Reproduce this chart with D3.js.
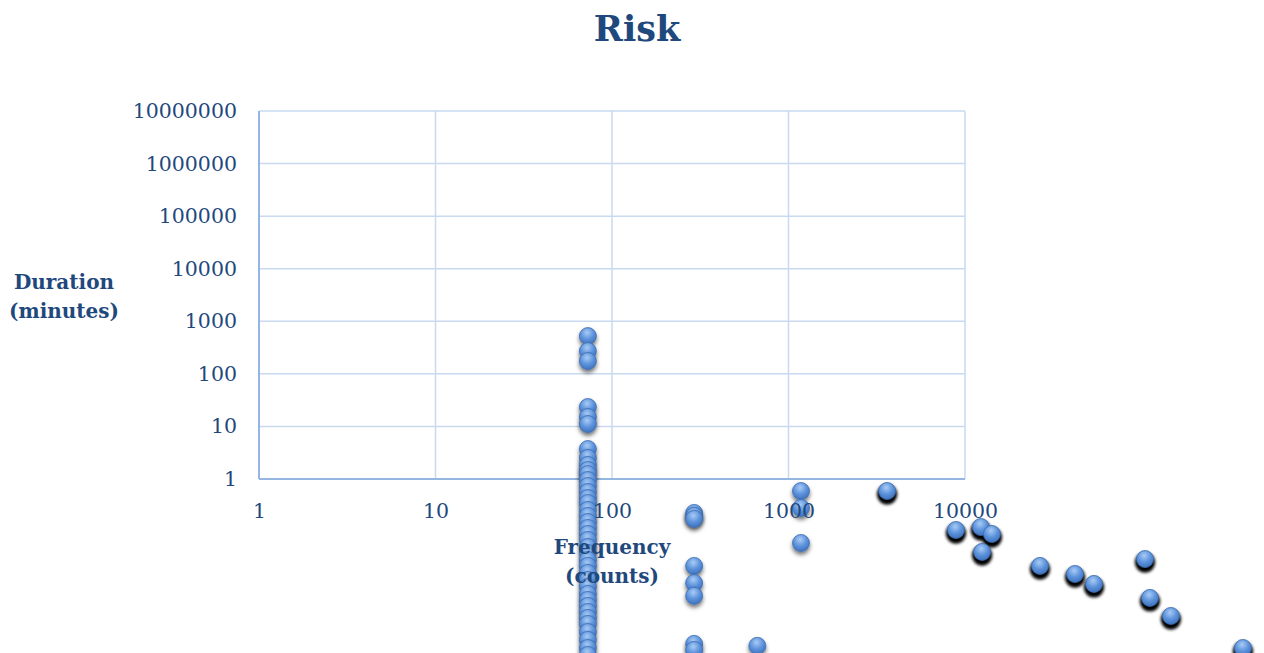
<!DOCTYPE html>
<html><head><meta charset="utf-8">
<script src="https://cdn.jsdelivr.net/npm/d3@7"></script>
<style>
html,body{margin:0;padding:0;background:#fff;}
svg{display:block;}
text{font-family:"DejaVu Serif",serif;fill:#1f497d;}
</style></head>
<body>
<script>
// ---- data ----
const title = "Risk";
const xTitle = ["Frequency", "(counts)"];
const yTitle = ["Duration", "(minutes)"];
const xTicks = [1, 10, 100, 1000, 10000];
const yTicks = [1, 10, 100, 1000, 10000, 100000, 1000000, 10000000];

// Frequency (counts) values
const freq = [
  73,73,73,73,73,73,73,73,73,73,73,73,73,73,73,73,73,73,73,73,
  73,73,73,73,73,73,73,73,73,73,73,73,73,73,73,73,73,73,73,
  292,292,292,292,292,292,292,292,
  666,
  1177,1177,1177,
  3620,
  8890,12300,14200,12500,26600,42000,53800,104700,111700,146800,375600
];
// Duration (minutes) values
const duration = [
  523,271,175,23.4,15.1,11.1,3.72,2.51,1.85,1.48,1.24,0.957,0.736,0.566,0.435,0.35,0.257,0.198,0.152,0.117,
  0.09,0.0692,0.0509,0.0392,0.0288,0.0222,0.0163,0.012,0.00885,0.00651,0.00501,0.00385,0.00296,0.00228,0.00175,0.00123,0.00087,0.00061,0.00045,
  0.226,0.2,0.174,0.0222,0.0105,0.006,0.00073,0.00056,
  0.00067,
  0.59,0.281,0.0607,
  0.59,
  0.107,0.122,0.09,0.041,0.0222,0.0156,0.0101,0.03,0.00547,0.00248,0.00061
];

// ---- layout ----
const W = 1264, H = 653;
const M = {left: 259, right: 965, top: 111, bottom: 479};
const svg = d3.select("body").append("svg").attr("width", W).attr("height", H);

const x = d3.scaleLog().domain([1, 10000]).range([M.left, M.right]);
const y = d3.scaleLog().domain([1, 10000000]).range([M.bottom, M.top]);

const defs = svg.append("defs");
const grad = defs.append("radialGradient").attr("id", "ball")
  .attr("cx", "45%").attr("cy", "30%").attr("r", "70%");
grad.append("stop").attr("offset", "0%").attr("stop-color", "#a9cbf5");
grad.append("stop").attr("offset", "55%").attr("stop-color", "#5d93dc");
grad.append("stop").attr("offset", "100%").attr("stop-color", "#3f72bd");

const soft = defs.append("filter").attr("id", "soft").attr("x", "-50%").attr("y", "-50%").attr("width", "200%").attr("height", "200%");
soft.append("feDropShadow").attr("dx", 0).attr("dy", 3).attr("stdDeviation", 2.2)
  .attr("flood-color", "#000").attr("flood-opacity", 0.55);
const blur = defs.append("filter").attr("id", "blur").attr("x", "-50%").attr("y", "-50%").attr("width", "200%").attr("height", "200%");
blur.append("feGaussianBlur").attr("stdDeviation", 1.6);

// gridlines
const grid = svg.append("g");
grid.selectAll("line.v").data(xTicks).join("line")
  .attr("x1", d => x(d)).attr("x2", d => x(d))
  .attr("y1", M.top).attr("y2", M.bottom)
  .attr("stroke", "#c9daf0").attr("stroke-width", 1.5);
grid.selectAll("line.h").data(yTicks).join("line")
  .attr("x1", M.left).attr("x2", M.right)
  .attr("y1", d => y(d)).attr("y2", d => y(d))
  .attr("stroke", "#c9daf0").attr("stroke-width", 1.5);
// axis lines
svg.append("line").attr("x1", M.left).attr("x2", M.left).attr("y1", M.top).attr("y2", M.bottom)
  .attr("stroke", "#95b6e0").attr("stroke-width", 2);
svg.append("line").attr("x1", M.left).attr("x2", M.right).attr("y1", M.bottom).attr("y2", M.bottom)
  .attr("stroke", "#95b6e0").attr("stroke-width", 2);

// points
const pts = freq.map((f, i) => ({f, d: duration[i]}));
const pg = svg.append("g");
const hard = pts.filter(p => p.f > 3000);
pg.selectAll("circle.sh").data(hard).join("circle")
  .attr("cx", p => x(p.f)).attr("cy", p => y(p.d) + 3.5).attr("r", 10.2)
  .attr("fill", "#000").attr("filter", "url(#blur)");
pg.selectAll("circle.pt").data(pts).join("circle")
  .attr("cx", p => x(p.f)).attr("cy", p => y(p.d)).attr("r", 8.5)
  .attr("fill", "url(#ball)").attr("stroke", "#3c6db3").attr("stroke-width", 0.8)
  .attr("filter", p => p.f > 3000 ? null : "url(#soft)");

// axes labels
const fmt = d => String(d);
const xa = svg.append("g").attr("transform", `translate(0,${M.bottom})`)
  .call(d3.axisBottom(x).tickValues(xTicks).tickFormat(fmt).tickSize(0).tickPadding(24));
xa.select(".domain").remove();
xa.selectAll("text").style("font-size", "20.5px").style("font-family", "DejaVu Serif").attr("fill", "#1f497d");

const ya = svg.append("g").attr("transform", `translate(${M.left},0)`)
  .call(d3.axisLeft(y).tickValues(yTicks).tickFormat(fmt).tickSize(0).tickPadding(22));
ya.select(".domain").remove();
ya.selectAll("text").style("font-size", "20.5px").style("font-family", "DejaVu Serif").attr("fill", "#1f497d");

// titles
svg.append("text").attr("x", 637).attr("y", 41).attr("text-anchor", "middle")
  .style("font-size", "35px").style("font-weight", "bold").text(title);

const yt = svg.append("text").attr("text-anchor", "middle").style("font-size", "20px").style("font-weight", "bold");
yt.selectAll("tspan").data(yTitle).join("tspan").attr("x", 64).attr("y", (d, i) => 289 + i * 29).text(d => d);

const xt = svg.append("text").attr("text-anchor", "middle").style("font-size", "20px").style("font-weight", "bold");
xt.selectAll("tspan").data(xTitle).join("tspan").attr("x", 612).attr("y", (d, i) => 554 + i * 29).text(d => d);
</script>
</body></html>
